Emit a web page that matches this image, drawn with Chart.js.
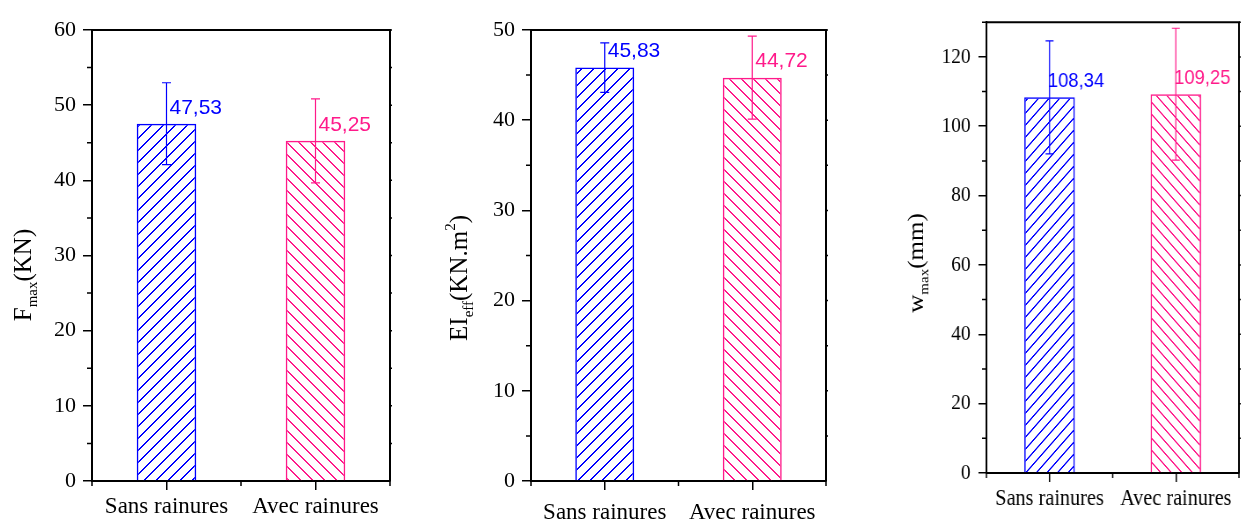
<!DOCTYPE html>
<html>
<head>
<meta charset="utf-8">
<script src="https://cdn.jsdelivr.net/npm/chart.js@4.4.0/dist/chart.umd.min.js"></script>
<style>
body{margin:0;background:#fff;width:1244px;height:531px;overflow:hidden;position:relative}
.panel{position:absolute;top:0}
</style>
</head>
<body>
<div class="panel" style="left:0"><canvas id="fmaxChart" width="400" height="531"></canvas></div>
<div class="panel" style="left:410px"><canvas id="eiChart" width="430" height="531"></canvas></div>
<div class="panel" style="left:850px;transform:scaleX(0.88);transform-origin:0 0"><canvas id="wChart" width="448" height="531"></canvas></div>
<script>
// data
const categories = ['Sans rainures', 'Avec rainures']

const fmaxValues = [47.53, 45.25]
const fmaxErrors = [5.45, 5.6]
const fmaxTicks = [0, 10, 20, 30, 40, 50, 60]

const eiValues = [45.83, 44.72]
const eiErrors = [2.75, 4.6]
const eiTicks = [0, 10, 20, 30, 40, 50]

const wValues = [108.34, 109.25]
const wErrors = [16.3, 19.0]
const wTicks = [0, 20, 40, 60, 80, 100, 120]

const blue = '#0000ff'
const pink = '#ff1a8a'
const serif = '"Liberation Serif", "Times New Roman", serif'

// crisp (non antialiased) diagonal hatch, like the original
function hatch(color, dir) {
  const s = 12
  const c = document.createElement('canvas')
  c.width = s; c.height = s
  const g = c.getContext('2d')
  g.fillStyle = color
  for (let k = 0; k < s; k++) {
    const py = dir > 0 ? s - 1 - k : k
    g.fillRect(k, py, 1, 1)
    g.fillRect((k + 1) % s, py, 1, 1)
  }
  return g.createPattern(c, 'repeat')
}

// error bars, value labels, frame, minor ticks, axis title
const decor = {
  id: 'decor',
  afterDraw(chart, args, opts) {
    const {ctx, chartArea: a, scales: {x, y}} = chart
    const ds = chart.data.datasets[0]
    ctx.save()

    ds.data.forEach((v, i) => {
      const px = x.getPixelForValue(i)
      const e = opts.errors[i]
      const top = y.getPixelForValue(v + e), bot = y.getPixelForValue(v - e)
      ctx.strokeStyle = ds.borderColor[i]
      ctx.lineWidth = 1.2
      ctx.beginPath()
      ctx.moveTo(px, top); ctx.lineTo(px, bot)
      ctx.moveTo(px - 4.5, top); ctx.lineTo(px + 4.5, top)
      ctx.moveTo(px - 4.5, bot); ctx.lineTo(px + 4.5, bot)
      ctx.stroke()
      ctx.fillStyle = ds.borderColor[i]
      ctx.font = '21px "Liberation Sans", Arial, sans-serif'
      ctx.textAlign = 'left'
      ctx.textBaseline = 'middle'
      ctx.fillText(v.toFixed(2).replace('.', ','), px + opts.labelDx, y.getPixelForValue(v) - 16)
    })

    ctx.strokeStyle = '#000'
    ctx.lineWidth = 2
    ctx.beginPath()
    ctx.moveTo(a.left, a.top); ctx.lineTo(a.right, a.top); ctx.lineTo(a.right, a.bottom)
    ctx.stroke()

    const ticks = opts.ticks
    const step = ticks[1] - ticks[0]
    ctx.lineWidth = 1.5
    ctx.beginPath()
    for (let v = step / 2; v <= y.max + 0.01; v += step) {
      const py = y.getPixelForValue(v)
      ctx.moveTo(a.left - 5, py); ctx.lineTo(a.left, py)
    }
    for (let v = step / 2; v <= y.max + 0.01; v += step / 2) {
      const py = y.getPixelForValue(v)
      ctx.moveTo(a.right, py); ctx.lineTo(a.right + 2, py)
    }
    for (const i of [-0.5, 0.5, 1.5]) {
      const px = x.getPixelForValue(i)
      ctx.moveTo(px, a.bottom); ctx.lineTo(px, a.bottom + 5)
    }
    ctx.stroke()

    // rotated title with sub/superscripts
    const t = opts.title
    ctx.translate(t.x, t.y)
    ctx.rotate(-Math.PI / 2)
    ctx.fillStyle = '#000'
    ctx.textAlign = 'left'
    ctx.textBaseline = 'alphabetic'
    let total = 0
    t.parts.forEach(p => { ctx.font = p[1] + 'px ' + serif; total += ctx.measureText(p[0]).width })
    let u = -total / 2
    t.parts.forEach(p => {
      ctx.font = p[1] + 'px ' + serif
      ctx.fillText(p[0], u, p[2])
      u += ctx.measureText(p[0]).width
    })
    ctx.restore()
  }
}

function makeChart(id, values, errors, yTicks, yMax, o) {
  return new Chart(document.getElementById(id).getContext('2d'), {
    type: 'bar',
    data: {
      labels: categories,
      datasets: [{
        data: values,
        backgroundColor: [hatch(blue, 1), hatch(pink, -1)],
        borderColor: [blue, pink],
        borderWidth: 1.5,
        barPercentage: 0.4,
        categoryPercentage: 1
      }]
    },
    options: {
      responsive: false,
      animation: false,
      layout: {padding: {top: o.padTop, right: o.padRight, left: 0, bottom: 0}},
      plugins: {
        legend: {display: false},
        tooltip: {enabled: false},
        decor: {errors: errors, ticks: yTicks, labelDx: o.labelDx, title: o.title}
      },
      scales: {
        x: {
          grid: {display: true, drawOnChartArea: false, drawTicks: true, tickLength: 9, color: '#000', lineWidth: 1.5, offset: false},
          border: {display: true, color: '#000', width: 2},
          ticks: {color: '#000', font: {family: serif, size: 23}, padding: o.xPad, maxRotation: 0, autoSkip: false},
          afterFit(s) { s.height = o.xHeight }
        },
        y: {
          min: 0,
          max: yMax,
          afterBuildTicks(s) { s.ticks = yTicks.map(v => ({value: v})) },
          grid: {display: true, drawOnChartArea: false, drawTicks: true, tickLength: 9, color: '#000', lineWidth: 1.5},
          border: {display: true, color: '#000', width: 2},
          ticks: {color: '#000', font: {family: serif, size: 22}, padding: o.yPad},
          afterFit(s) { s.width = o.yWidth }
        }
      }
    },
    plugins: [decor]
  })
}

makeChart('fmaxChart', fmaxValues, fmaxErrors, fmaxTicks, 60, {
  padTop: 30, padRight: 10, yWidth: 92, xHeight: 50, xPad: 3, yPad: 7, labelDx: 3,
  title: {x: 31, y: 275, parts: [['F', 25, 0], ['max', 15, 6], ['(KN)', 25, 0]]}
})

makeChart('eiChart', eiValues, eiErrors, eiTicks, 50, {
  padTop: 30, padRight: 14, yWidth: 121, xHeight: 50, xPad: 9, yPad: 7, labelDx: 3,
  title: {x: 57, y: 278, parts: [['EI', 25, 0], ['eff', 15, 6], ['(KN.m', 25, 0], ['2', 15, -12], [')', 25, 0]]}
})

makeChart('wChart', wValues, wErrors, wTicks, 130, {
  padTop: 13, padRight: 6, yWidth: 155, xHeight: 58, xPad: 3, yPad: 9, labelDx: -2,
  title: {x: 83, y: 263, parts: [['w', 25, 0], ['max', 15, 6], ['(mm)', 25, 0]]}
})
</script>
</body>
</html>
